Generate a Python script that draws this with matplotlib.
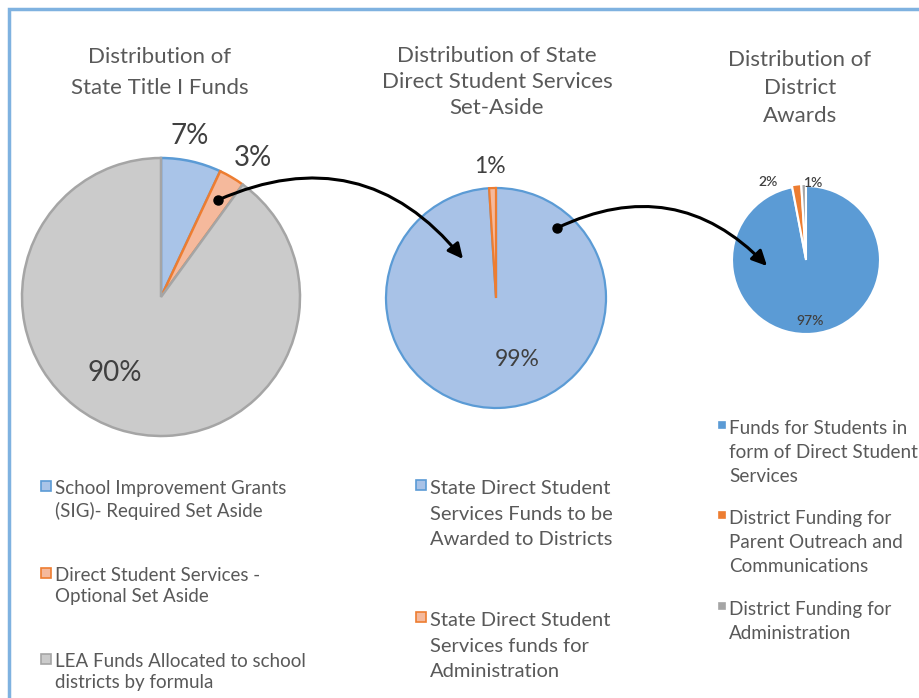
import numpy as np
import matplotlib
matplotlib.use("Agg")
import matplotlib.pyplot as plt
from matplotlib.patches import FancyArrowPatch, Rectangle

plt.rcParams['font.family'] = ['Lato', 'DejaVu Sans']

# chart data
titles = ["Distribution of\nState Title I Funds",
          "Distribution of State\nDirect Student Services\nSet-Aside",
          "Distribution of\nDistrict\nAwards"]

state_labels = ["School Improvement Grants\n(SIG)- Required Set Aside",
                "Direct Student Services -\nOptional Set Aside",
                "LEA Funds Allocated to school\ndistricts by formula"]
state_values = [7, 3, 90]

dss_labels = ["State Direct Student\nServices Funds to be\nAwarded to Districts",
              "State Direct Student\nServices funds for\nAdministration"]
dss_values = [99, 1]

district_labels = ["Funds for Students in\nform of Direct Student\nServices",
                   "District Funding for\nParent Outreach and\nCommunications",
                   "District Funding for\nAdministration"]
district_values = [97, 2, 1]

W, H = 920, 698
TXT = '#595959'
PCT = '#404040'


def Y(y):
    # image rows -> axis units (y up)
    return H - y


fig = plt.figure(figsize=(W / 100, H / 100), dpi=100)
ax = fig.add_axes([0, 0, 1, 1])


def draw_pie(values, center, radius, faces, edges, lw, explode=None):
    wedges, _ = ax.pie(values, center=center, radius=radius, startangle=90,
                       counterclock=False, colors=faces, explode=explode,
                       wedgeprops=dict(linewidth=lw), frame=True)
    for w, e in zip(wedges, edges):
        w.set_edgecolor(e)
    return wedges


def pct_labels(wedges, values, center, radius, spots, size, weight='normal'):
    for w, v, (dist, dang) in zip(wedges, values, spots):
        ang = np.deg2rad((w.theta1 + w.theta2) / 2 + dang)
        ax.text(center[0] + dist * radius * np.cos(ang),
                center[1] + dist * radius * np.sin(ang),
                f"{v}%", ha='center', va='center', fontsize=size,
                color=PCT, fontweight=weight)


def legend_block(x, ys, labels, faces, edges, sq, size, spacing, shift=0):
    for y, lab, fc, ec in zip(ys, labels, faces, edges):
        ax.add_patch(Rectangle((x - sq - 4, Y(y) - sq / 2 + 2), sq, sq,
                               facecolor=fc, edgecolor=ec, lw=1.2))
        ax.text(x, Y(y) + size * 0.74 - shift, lab, ha='left', va='top',
                fontsize=size, color=TXT, linespacing=spacing)


# pie 1 - state title I funds
c1, r1 = (161, Y(297)), 139
face1 = ['#a9c4e8', '#f5b99c', '#cbcbcb']
edge1 = ['#5b9bd5', '#ed7d31', '#a5a5a5']
w1 = draw_pie(state_values, c1, r1, face1, edge1, 1.8)
pct_labels(w1, state_values, c1, r1, [(1.18, 2.5), (1.2, -2.7), (0.64, -13)], 20)

# pie 2 - direct student services set-aside
c2, r2 = (496, Y(298)), 110
face2 = ['#a8c2e7', '#f5b99c']
edge2 = ['#5b9bd5', '#ed7d31']
w2 = draw_pie(dss_values, c2, r2, face2, edge2, 1.6)
pct_labels(w2, dss_values, c2, r2, [(0.59, 17), (1.2, 0.8)], 16.5)

# pie 3 - district awards
c3, r3 = (806, Y(260)), 74
face3 = ['#5b9bd5', '#ed7d31', '#a5a5a5']
w3 = draw_pie(district_values, c3, r3, face3, ['white'] * 3, 1.5,
              explode=[0, 2, 2])
pct_labels(w3, district_values, c3, r3, [(0.83, -1.5), (1.17, 19), (1.05, -7)],
           10, weight='semibold')

# titles
ax.text(160, Y(72.5), titles[0], ha='center', va='center', fontsize=16,
        color=TXT, linespacing=1.69)
ax.text(497, Y(82), titles[1], ha='center', va='center', fontsize=16,
        color=TXT, linespacing=1.4)
ax.text(800, Y(88), titles[2], ha='center', va='center', fontsize=16,
        color=TXT, linespacing=1.49)

# arrows
for (xa, ya), (xb, yb), rad in [((218, 200), (463, 259), -0.38),
                                ((557, 228), (767, 266), -0.36)]:
    ax.add_patch(FancyArrowPatch((xa, Y(ya)), (xb, Y(yb)),
                                 connectionstyle=f"arc3,rad={rad}",
                                 arrowstyle="-|>,head_length=0.45,head_width=0.22",
                                 mutation_scale=20, lw=2.2, color='black',
                                 shrinkA=0, shrinkB=0, zorder=5))
    ax.plot(xa, Y(ya), 'o', color='black', ms=6.5, zorder=6)

# legends
legend_block(55, [488, 575, 661], state_labels, face1, edge1, 10, 13.5, 1.32, 2)
legend_block(430, [487, 619], dss_labels, face2, edge2, 10, 14.5, 1.6, 4)
legend_block(729, [427, 517, 608], district_labels, face3, face3, 6, 13.6, 1.52, 3)

# frame lines in the corner
ax.plot([9, 9, W], [0, Y(9), Y(9)], color='#7fb2e0', lw=2.5,
        solid_capstyle='butt', solid_joinstyle='miter')

ax.set_xlim(0, W)
ax.set_ylim(0, H)
ax.axis('off')
fig.savefig('out.png', dpi=100)
